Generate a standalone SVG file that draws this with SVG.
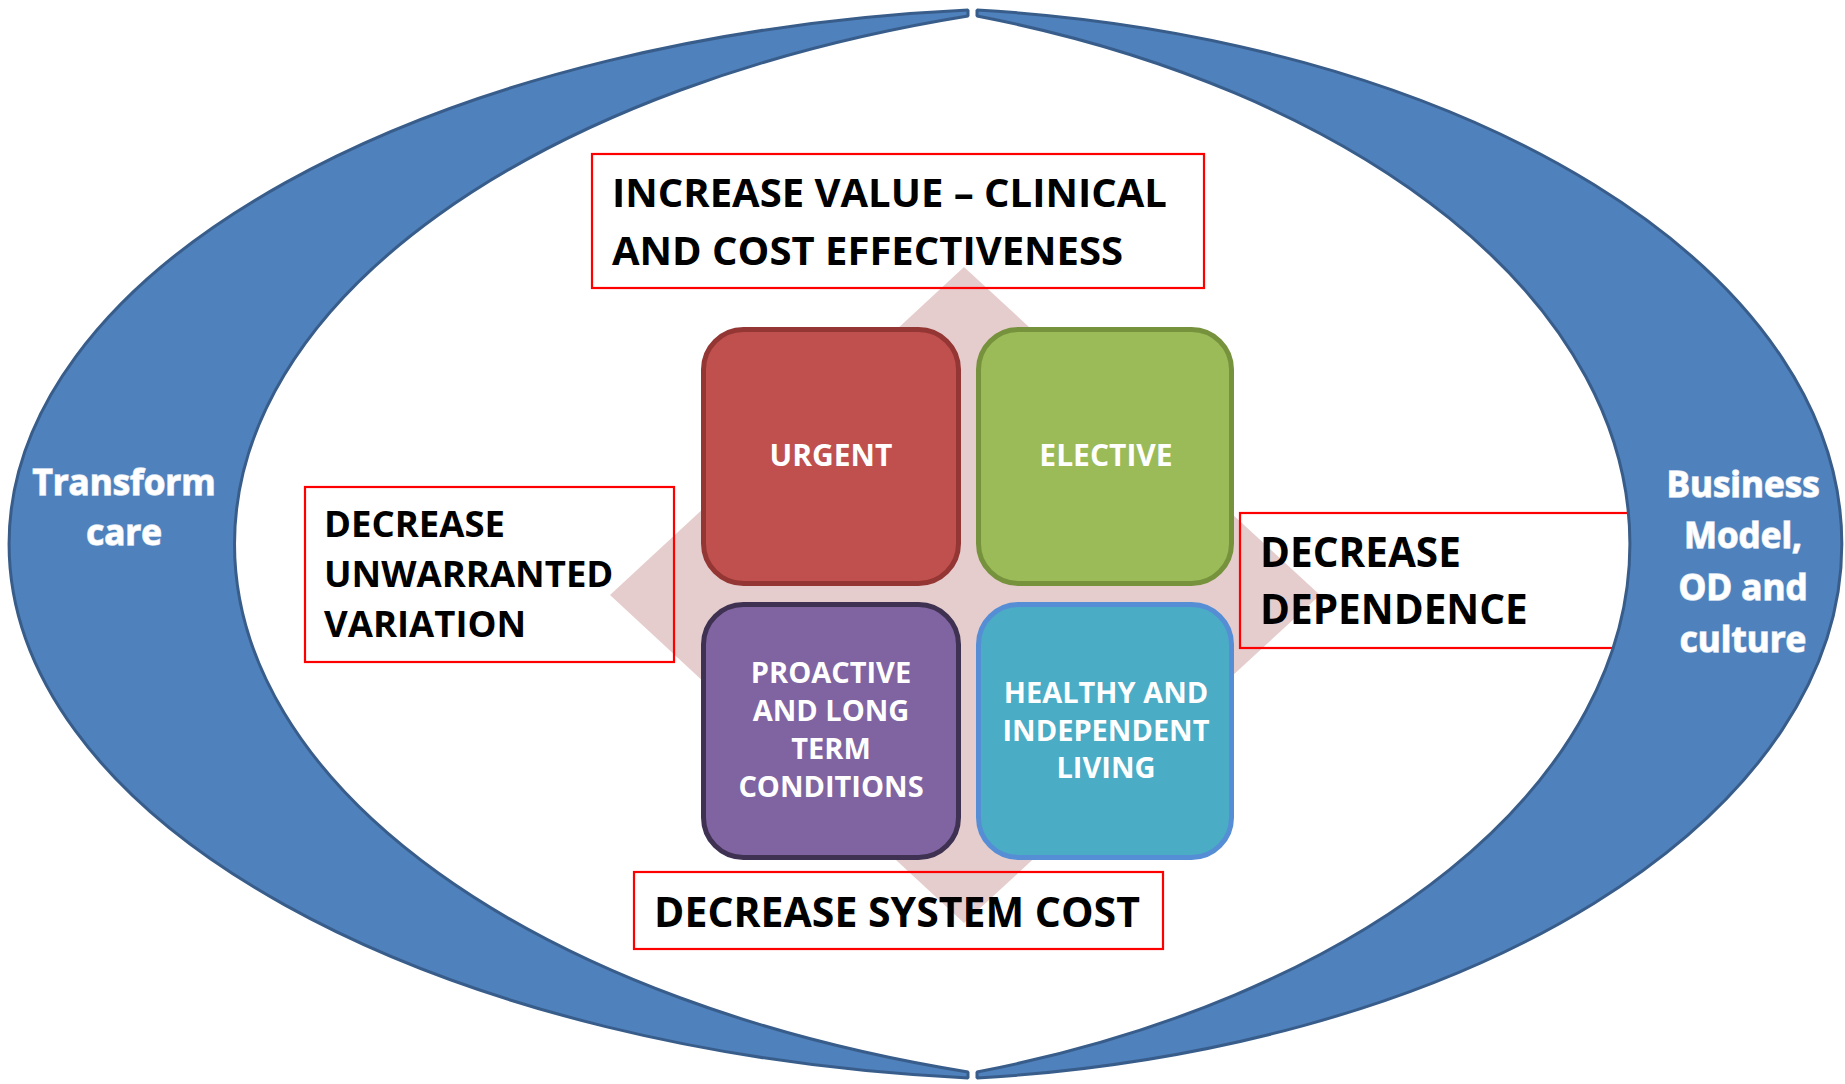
<svg xmlns="http://www.w3.org/2000/svg" width="1845" height="1084" viewBox="0 0 1845 1084">
<style>
.crescent{fill:#4F81BD;stroke:#385D8A;stroke-width:3;stroke-linejoin:bevel}
.side{font-family:"Open Sans","Liberation Sans",sans-serif;font-weight:700;font-size:35px;fill:#FFFFFF;text-anchor:middle;stroke:#DCE4F0;stroke-width:1.4;paint-order:stroke}
.quad{stroke-width:5}
.qtext{font-family:"Open Sans","Liberation Sans",sans-serif;font-weight:700;fill:#FFFFFF;text-anchor:middle}
.goal{fill:none;stroke:#FF0000;stroke-width:2.2}
.gtext{font-family:"Open Sans","Liberation Sans",sans-serif;font-weight:700;fill:#000000}
</style>
<rect width="1845" height="1084" fill="#FFFFFF"/>
<polygon id="diamond" points="964,267 1320,595 964,923 610,595" fill="#E6CDCD"/>
<g id="connectors"/>
<g id="urgent">
<rect class="quad" x="703.5" y="329.5" width="255" height="254" rx="40" fill="#C0504D" stroke="#943634"/>
<text class="qtext" x="831" y="466" font-size="30">URGENT</text>
</g>
<g id="elective">
<rect class="quad" x="978.5" y="329.5" width="253" height="254" rx="40" fill="#9BBB59" stroke="#76923C"/>
<text class="qtext" x="1106" y="466" font-size="30">ELECTIVE</text>
</g>
<g id="proactive">
<rect class="quad" x="703.5" y="604.5" width="255" height="253" rx="40" fill="#8064A2" stroke="#3F3151"/>
<text class="qtext" font-size="29"><tspan x="831" y="683">PROACTIVE</tspan><tspan x="831" y="721">AND LONG</tspan><tspan x="831" y="759">TERM</tspan><tspan x="831" y="797">CONDITIONS</tspan></text>
</g>
<g id="healthy">
<rect class="quad" x="978.5" y="604.5" width="253" height="253" rx="40" fill="#4BACC6" stroke="#558ED5"/>
<text class="qtext" font-size="29"><tspan x="1106" y="703">HEALTHY AND</tspan><tspan x="1106" y="741">INDEPENDENT</tspan><tspan x="1106" y="778">LIVING</tspan></text>
</g>
<g id="increase-value">
<rect class="goal" x="592" y="154" width="612" height="134"/>
<text class="gtext" font-size="40"><tspan x="612" y="207">INCREASE VALUE – CLINICAL</tspan><tspan x="612" y="265">AND COST EFFECTIVENESS</tspan></text>
</g>
<g id="decrease-variation">
<rect class="goal" x="305" y="487" width="369" height="175"/>
<text class="gtext" font-size="36.5"><tspan x="324" y="537">DECREASE</tspan><tspan x="324" y="587">UNWARRANTED</tspan><tspan x="324" y="637">VARIATION</tspan></text>
</g>
<g id="decrease-dependence">
<rect class="goal" x="1240" y="513" width="420" height="135"/>
<text class="gtext" font-size="40.5"><tspan x="1260" y="567">DECREASE</tspan><tspan x="1260" y="624">DEPENDENCE</tspan></text>
</g>
<g id="decrease-cost">
<rect class="goal" x="634" y="872" width="529" height="77"/>
<text class="gtext" font-size="41" x="897" y="927" text-anchor="middle">DECREASE SYSTEM COST</text>
</g>
<g id="transform-care">
<path class="crescent" d="M968,10 A1059,536.4 0 0 0 968,1078 L968,1072 A1033,551.7 0 0 1 968,16 Z"/>
<text class="side"><tspan x="124" y="495">Transform</tspan><tspan x="124" y="545">care</tspan></text>
</g>
<g id="business-model">
<path class="crescent" d="M977,10 A965,536.9 0 0 1 977,1078 L977,1072 A953,556.3 0 0 0 977,16 Z"/>
<text class="side"><tspan x="1743" y="497">Business</tspan><tspan x="1743" y="548">Model,</tspan><tspan x="1743" y="600">OD and</tspan><tspan x="1743" y="652">culture</tspan></text>
</g>
</svg>
